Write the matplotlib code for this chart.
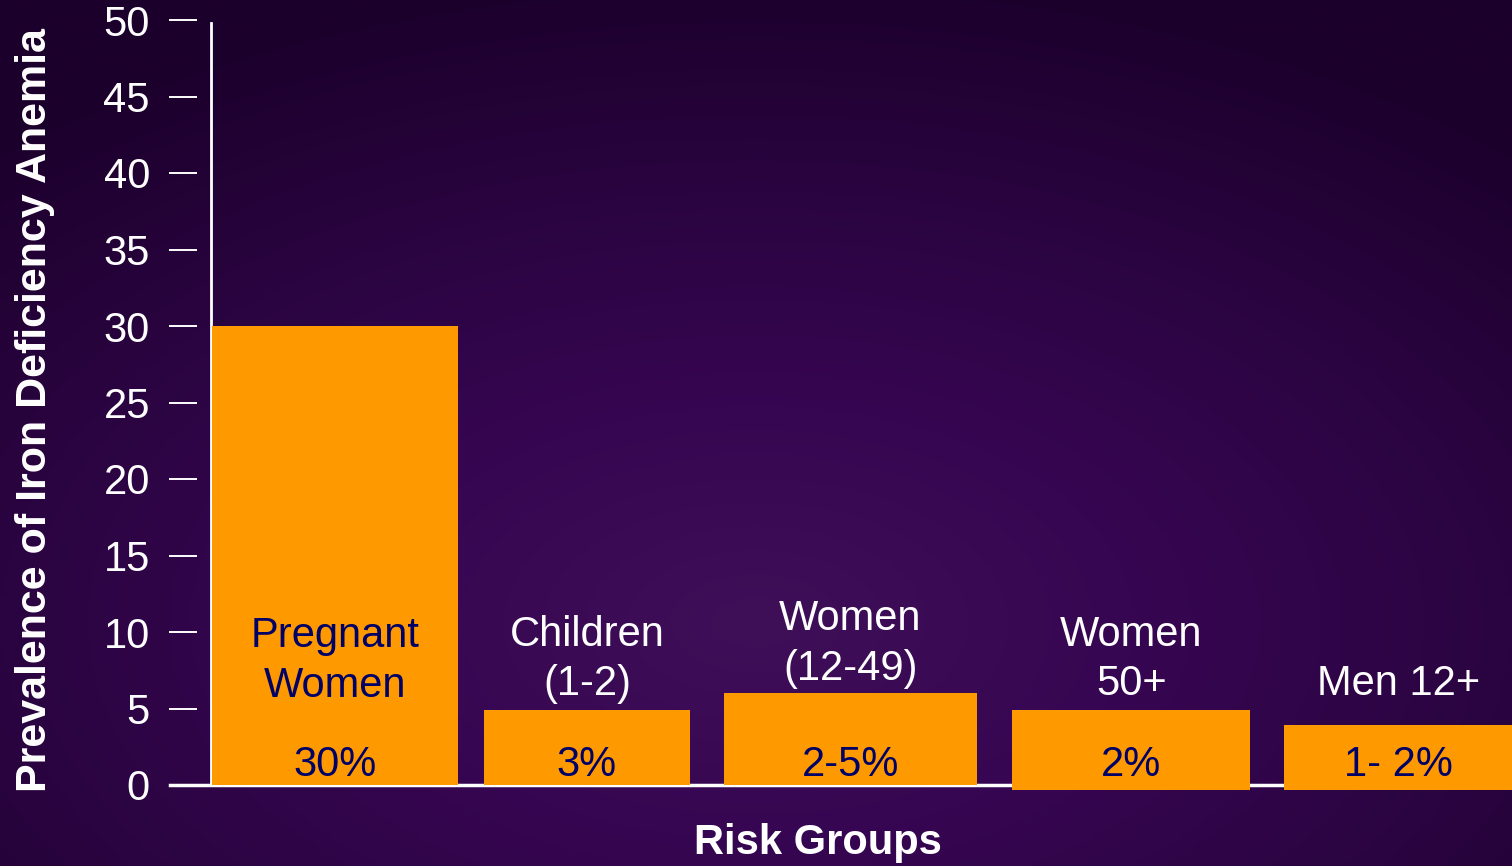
import numpy as np
import matplotlib.pyplot as plt
from matplotlib.colors import LinearSegmentedColormap

plt.rcParams['font.family'] = ['Liberation Sans', 'DejaVu Sans']

# data
groups = ['Pregnant\nWomen', 'Children\n(1-2)', 'Women\n(12-49)', 'Women\n50+', 'Men 12+']
pct_labels = ['30%', '3%', '2-5%', '2%', '1- 2%']
bar_top = [30, 4.9, 6.0, 4.9, 3.9]
bar_bottom = [0, 0, 0, -0.3, -0.3]
bar_left = [0.08, 21.0, 39.4, 61.6, 82.5]   # x in axes units (0..100)
bar_width = [18.9, 15.8, 19.5, 18.3, 17.5]
yticks = [0, 5, 10, 15, 20, 25, 30, 35, 40, 45, 50]

W, H = 1512, 866
fig = plt.figure(figsize=(W / 100, H / 100), dpi=100)

# background: dark purple radial glow
bg = fig.add_axes([0, 0, 1, 1])
yy, xx = np.mgrid[0:1:300j, 0:1:500j]
r = np.sqrt(((xx - 0.5) / 0.75) ** 2 + ((yy - 0.72) / 0.75) ** 2)
cmap = LinearSegmentedColormap.from_list('bgp', ['#3f0f58', '#370652', '#2a0440', '#1c002c'])
bg.imshow(np.clip(r, 0, 1), cmap=cmap, vmin=0, vmax=1, aspect='auto', extent=[0, 1, 1, 0])
bg.set_axis_off()

# axes: left edge at x=211 px, y=0 at 785 px, y=50 at 20 px
ax = fig.add_axes([211 / W, (H - 785) / H, 1 - 211 / W, 765 / H])
ax.set_facecolor('none')
ax.set_xlim(0, 100)
ax.set_ylim(0, 50)

for i in range(len(groups)):
    ax.bar(bar_left[i], bar_top[i] - bar_bottom[i], width=bar_width[i], bottom=bar_bottom[i],
           align='edge', color='#ff9900', zorder=3, clip_on=False)
    cx = bar_left[i] + bar_width[i] / 2
    if i == 0:
        ax.text(cx, 8.1, groups[i], ha='center', va='center', color='#000066',
                fontsize=30, linespacing=1.3, zorder=4)
    else:
        ax.text(cx, max(bar_top[i], 5) + 0.3, groups[i], ha='center', va='bottom',
                color='white', fontsize=30, linespacing=1.3, zorder=4)
    ax.text(cx, 1.3, pct_labels[i], ha='center', va='center', color='#000066',
            fontsize=30, zorder=4)

# axis lines
for s in ['top', 'right', 'bottom', 'left']:
    ax.spines[s].set_visible(False)
ax.spines['left'].set_position(('outward', 10))
ax.plot([0, 0], [0, 49.8], color='white', lw=2, clip_on=False, zorder=2)
ax.plot([-41 / 1301, 1], [0, 0], color='white', lw=2.5, clip_on=False, zorder=2,
        transform=ax.get_yaxis_transform())

ax.set_yticks(yticks)
ax.set_xticks([])
ax.tick_params(axis='y', direction='out', length=20, width=1.4, color='white',
               labelcolor='white', labelsize=30, pad=14)

fig.text(35 / W, 1 - 410 / H, 'Prevalence of Iron Deficiency Anemia', rotation=90,
         ha='center', va='center', color='white', fontsize=31, fontweight='bold')
fig.text(818 / W, 1 - 843 / H, 'Risk Groups', ha='center', va='center',
         color='white', fontsize=30, fontweight='bold')

fig.savefig('out.png', dpi=100)
